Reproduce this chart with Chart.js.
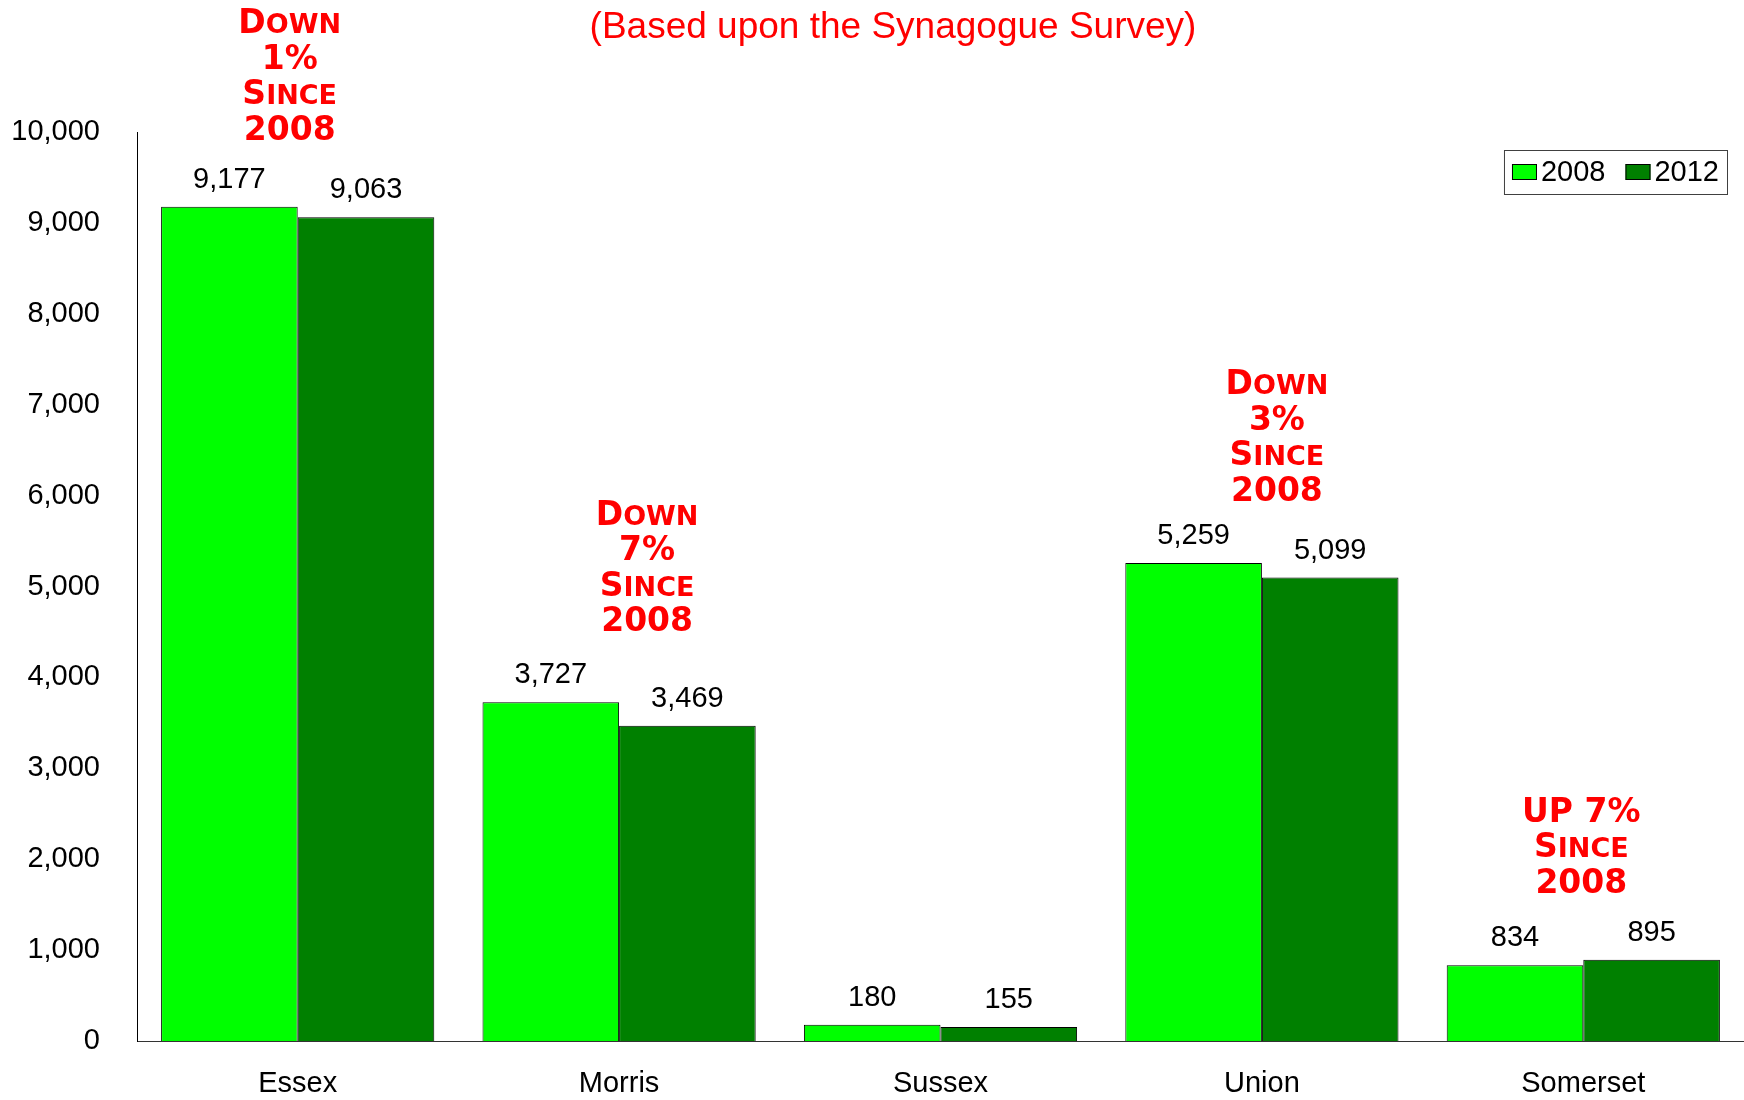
<!DOCTYPE html>
<html>
<head>
<meta charset="utf-8">
<script src="https://cdn.jsdelivr.net/npm/chart.js@4.4.1/dist/chart.umd.min.js"></script>
<style>
  html, body { margin: 0; padding: 0; background: #fff; }
  #wrap { width: 1744px; height: 1100px; }
</style>
</head>
<body>
<div id="wrap"><canvas id="synagogueChart" width="1744" height="1100"></canvas></div>
<script>
// Counties and membership counts
const counties = ["Essex", "Morris", "Sussex", "Union", "Somerset"];
const years = ["2008", "2012"];
const members2008 = [9177, 3727, 180, 5259, 834];
const members2012 = [9063, 3469, 155, 5099, 895];
const yTicks = [0, 1000, 2000, 3000, 4000, 5000, 6000, 7000, 8000, 9000, 10000];

// Change notes shown above each county (null = no note)
const changeNotes = [
    ["Down", "1%", "Since", "2008"],
    ["Down", "7%", "Since", "2008"],
    null,
    ["Down", "3%", "Since", "2008"],
    ["UP 7%", "Since", "2008"]
];

const titleText = "(Based upon the Synagogue Survey)";
const barColors = ["#00FF00", "#008000"];
const labelFont = "29px 'Liberation Sans', Arial, sans-serif";
const noteRed = "#FF0000";

/**
 * Title line at the very top
 */
const topTitle = {
    id: "topTitle",
    afterDraw(chart) {
        const ctx = chart.ctx;
        ctx.save();
        ctx.font = "37px 'Liberation Sans', Arial, sans-serif";
        ctx.fillStyle = noteRed;
        ctx.textAlign = "center";
        ctx.textBaseline = "middle";
        ctx.fillText(titleText, chart.width / 2 + 21, 28);
        ctx.restore();
    }
};

/**
 * Number labels above each bar
 */
const valueLabels = {
    id: "valueLabels",
    afterDatasetsDraw(chart) {
        const ctx = chart.ctx;
        ctx.save();
        ctx.font = labelFont;
        ctx.fillStyle = "#000";
        ctx.textAlign = "center";
        ctx.textBaseline = "middle";
        chart.data.datasets.forEach((ds, di) => {
            chart.getDatasetMeta(di).data.forEach((bar, i) => {
                ctx.fillText(ds.data[i].toLocaleString("en-US"), bar.x, bar.y - 27);
            });
        });
        ctx.restore();
    }
};

// draws one line in faux small caps: capitals full size, lowercase shrunk
function drawSmallCaps(ctx, text, cx, cy, big, small) {
    const parts = [];
    let cur = null;
    for (const ch of text) {
        const isLower = ch !== ch.toUpperCase();
        const size = isLower ? small : big;
        if (!cur || cur.size !== size) {
            cur = { size, text: "" };
            parts.push(cur);
        }
        cur.text += ch.toUpperCase();
    }
    let total = 0;
    parts.forEach(p => {
        ctx.font = "bold " + p.size + "px 'DejaVu Sans', sans-serif";
        p.w = ctx.measureText(p.text).width;
        total += p.w;
    });
    let x = cx - total / 2;
    ctx.textBaseline = "alphabetic";
    ctx.textAlign = "left";
    const base = cy + big * 0.36;
    parts.forEach(p => {
        ctx.font = "bold " + p.size + "px 'DejaVu Sans', sans-serif";
        ctx.fillText(p.text, x, base);
        x += p.w;
    });
}

/**
 * Red "Down x% Since 2008" notes, stacked above the taller bar of each county
 */
const changeNotesPlugin = {
    id: "changeNotes",
    afterDraw(chart, args, opts) {
        const ctx = chart.ctx;
        const xScale = chart.scales.x;
        const yScale = chart.scales.y;
        ctx.save();
        ctx.fillStyle = noteRed;
        changeNotes.forEach((lines, i) => {
            if (!lines) return;
            const top = Math.max(members2008[i], members2012[i]);
            const lastY = yScale.getPixelForValue(top) - opts.gap + (opts.nudgeY[i] || 0);
            const cx = xScale.getPixelForValue(i) + (opts.nudgeX[i] || 0);
            lines.forEach((line, li) => {
                const cy = lastY - (lines.length - 1 - li) * opts.lineStep;
                drawSmallCaps(ctx, line, cx, cy, 33, 27);
            });
        });
        ctx.restore();
    }
};

/**
 * Boxed legend in the top right corner of the plot
 */
const boxLegend = {
    id: "boxLegend",
    afterDraw(chart) {
        const ctx = chart.ctx;
        const area = chart.chartArea;
        ctx.save();
        ctx.font = labelFont;
        const pad = 8, swW = 25, swH = 16, gap = 4, itemGap = 20, h = 44;
        const items = chart.data.datasets.map(ds => ({
            label: ds.label, color: ds.backgroundColor, w: ctx.measureText(ds.label).width
        }));
        let width = pad * 2;
        items.forEach((it, i) => { width += swW + gap + it.w + (i ? itemGap : 0); });
        const right = area.right - 17;
        const left = right - width;
        const top = area.top + 18;

        ctx.fillStyle = "#fff";
        ctx.fillRect(left, top, width, h);
        ctx.strokeStyle = "#404040";
        ctx.lineWidth = 1;
        ctx.strokeRect(left + 0.5, top + 0.5, width, h);

        let x = left + pad;
        const mid = top + h / 2;
        items.forEach((it, i) => {
            if (i) x += itemGap;
            ctx.fillStyle = it.color;
            ctx.fillRect(x, mid - swH / 2, swW, swH);
            ctx.strokeStyle = "#000";
            ctx.strokeRect(x + 0.5, mid - swH / 2 + 0.5, swW - 1, swH - 1);
            x += swW + gap;
            ctx.fillStyle = "#000";
            ctx.textAlign = "left";
            ctx.textBaseline = "middle";
            ctx.fillText(it.label, x, mid + 1);
            x += it.w;
        });
        ctx.restore();
    }
};

new Chart(document.getElementById("synagogueChart").getContext("2d"), {
    type: "bar",
    data: {
        labels: counties,
        datasets: [
            {
                label: years[0],
                data: members2008,
                backgroundColor: barColors[0],
                borderColor: "#000",
                borderWidth: 1,
                categoryPercentage: 0.85,
                barPercentage: 1.0
            },
            {
                label: years[1],
                data: members2012,
                backgroundColor: barColors[1],
                borderColor: "#000",
                borderWidth: 1,
                categoryPercentage: 0.85,
                barPercentage: 1.0
            }
        ]
    },
    options: {
        responsive: false,
        animation: false,
        devicePixelRatio: 1,
        layout: { padding: { left: 0, right: 0, top: 132, bottom: 0 } },
        scales: {
            x: {
                grid: { display: false, drawTicks: false },
                border: { display: true, color: "#333", width: 1 },
                ticks: {
                    color: "#000",
                    font: { family: "'Liberation Sans', Arial, sans-serif", size: 29 },
                    padding: 26,
                    maxRotation: 0
                },
                afterFit(scale) { scale.height = 59; }
            },
            y: {
                min: 0,
                max: 10000,
                grid: { display: false, drawTicks: false },
                border: { display: true, color: "#000", width: 1 },
                afterBuildTicks(scale) { scale.ticks = yTicks.map(v => ({ value: v })); },
                ticks: {
                    color: "#000",
                    font: { family: "'Liberation Sans', Arial, sans-serif", size: 29 },
                    padding: 37,
                    callback: v => v.toLocaleString("en-US")
                },
                afterFit(scale) { scale.width = 137; }
            }
        },
        plugins: {
            legend: { display: false },
            tooltip: { enabled: false },
            title: { display: false },
            changeNotes: { gap: 79, lineStep: 35.5, nudgeX: [-8, 28, 0, 15, -2], nudgeY: [0, -4, 5, 5, 0] }
        }
    },
    plugins: [topTitle, valueLabels, changeNotesPlugin, boxLegend]
});
</script>
</body>
</html>
